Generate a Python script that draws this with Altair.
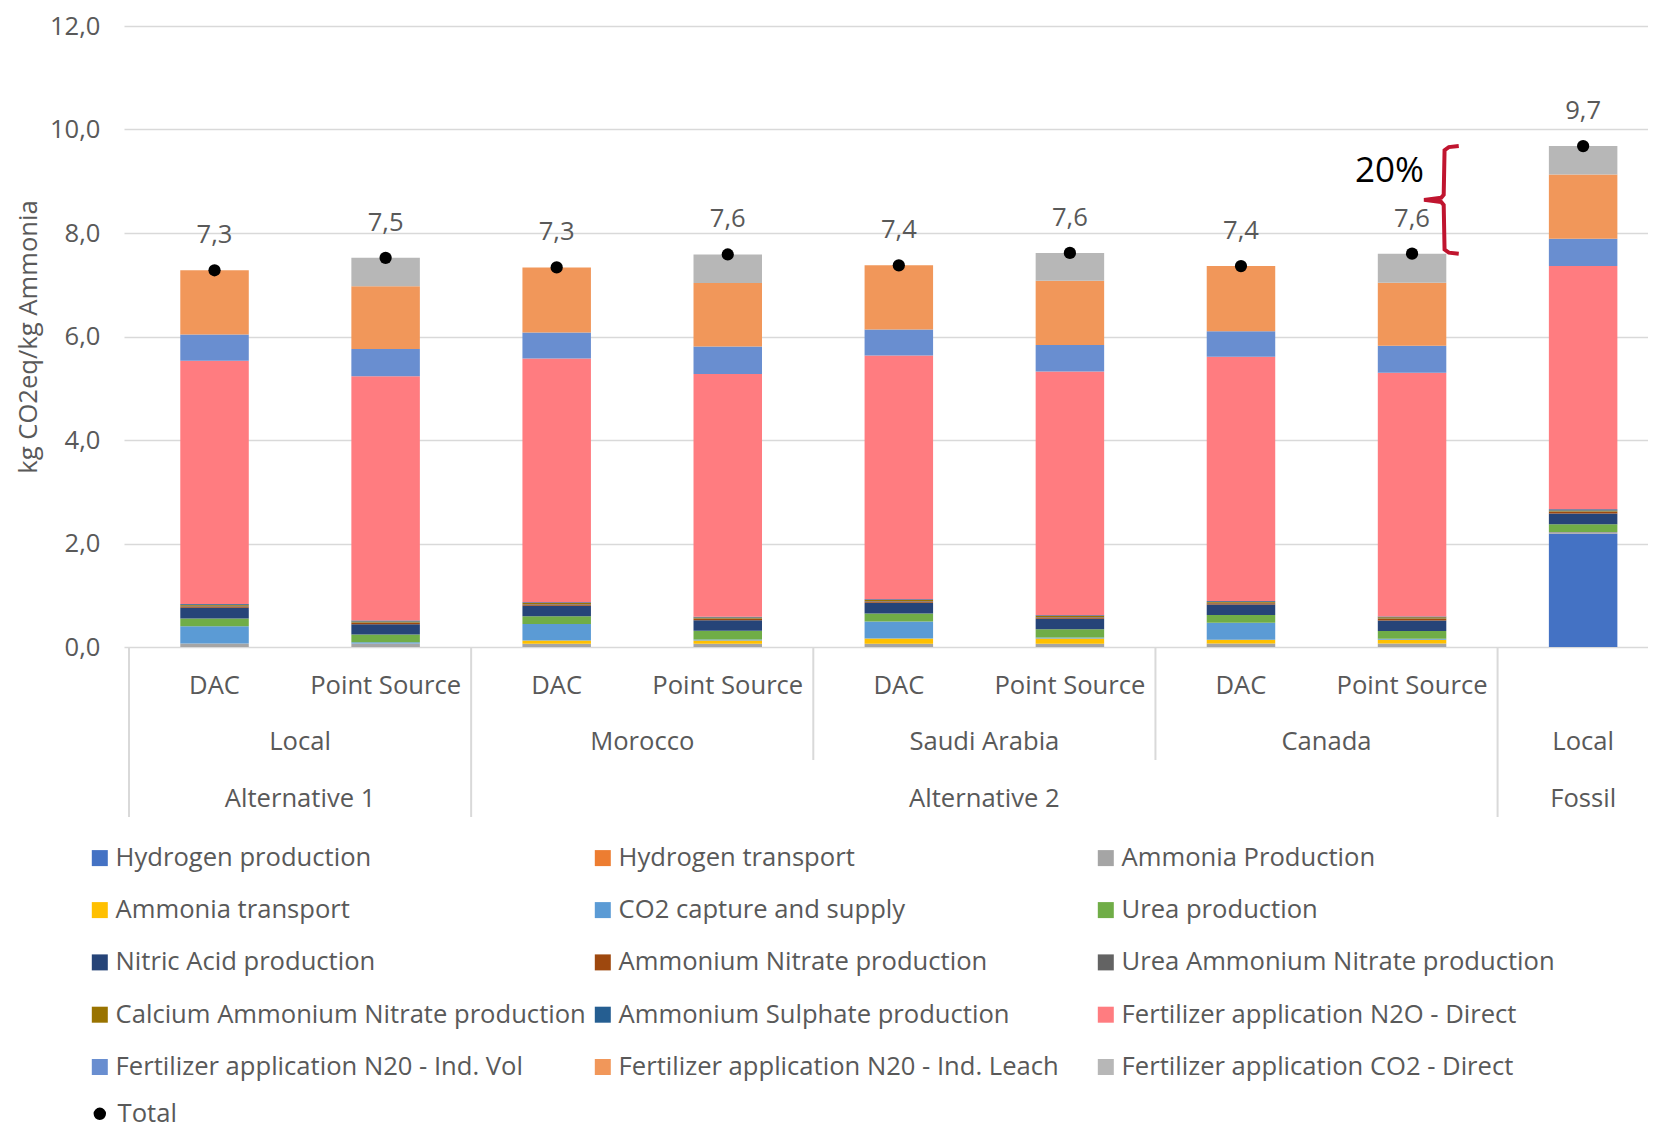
import altair as alt
import pandas as pd

# ---------------- data ----------------
bar_ids = ["Local DAC", "Local PS", "Morocco DAC", "Morocco PS", "Saudi DAC", "Saudi PS",
           "Canada DAC", "Canada PS", "Fossil Local"]
level1_labels = ["DAC", "Point Source", "DAC", "Point Source", "DAC", "Point Source",
                 "DAC", "Point Source", ""]
level2_groups = [("Local", 2), ("Morocco", 2), ("Saudi Arabia", 2), ("Canada", 2), ("Local", 1)]
level3_groups = [("Alternative 1", 2), ("Alternative 2", 6), ("Fossil", 1)]

series_names = [
    "Hydrogen production", "Hydrogen transport", "Ammonia Production",
    "Ammonia transport", "CO2 capture and supply", "Urea production",
    "Nitric Acid production", "Ammonium Nitrate production", "Urea Ammonium Nitrate production",
    "Calcium Ammonium Nitrate production", "Ammonium Sulphate production", "Fertilizer application N2O - Direct",
    "Fertilizer application N20 - Ind. Vol", "Fertilizer application N20 - Ind. Leach", "Fertilizer application CO2 - Direct",
]
series_colors = [
    "#4472C4", "#ED7D31", "#A5A5A5",
    "#FFC000", "#5B9BD5", "#70AD47",
    "#264478", "#9E480E", "#636363",
    "#997300", "#255E91", "#FF7C80",
    "#698ED0", "#F1975A", "#B7B7B7",
]

hydrogen_production = [0, 0, 0, 0, 0, 0, 0, 0, 2.19]
hydrogen_transport = [0, 0, 0, 0, 0, 0, 0, 0, 0]
ammonia_production = [0.07, 0.07, 0.065, 0.065, 0.065, 0.065, 0.07, 0.07, 0.03]
ammonia_transport = [0, 0, 0.06, 0.06, 0.10, 0.10, 0.07, 0.07, 0]
co2_capture = [0.33, 0.02, 0.32, 0.02, 0.33, 0.02, 0.33, 0.02, 0]
urea_production = [0.15, 0.15, 0.15, 0.17, 0.15, 0.16, 0.15, 0.15, 0.15]
nitric_acid = [0.21, 0.20, 0.20, 0.20, 0.21, 0.20, 0.20, 0.20, 0.21]
ammonium_nitrate = [0.025, 0.025, 0.025, 0.025, 0.025, 0.025, 0.025, 0.03, 0.03]
uan_production = [0.01, 0.01, 0.01, 0.01, 0.01, 0.01, 0.01, 0.01, 0.01]
can_production = [0.02, 0.02, 0.02, 0.02, 0.02, 0.02, 0.02, 0.025, 0.02]
as_production = [0.015, 0.015, 0.015, 0.015, 0.015, 0.015, 0.015, 0.015, 0.02]
n2o_direct = [4.70, 4.72, 4.71, 4.69, 4.71, 4.71, 4.72, 4.71, 4.70]
n2o_ind_vol = [0.51, 0.53, 0.50, 0.53, 0.50, 0.51, 0.49, 0.52, 0.53]
n2o_ind_leach = [1.24, 1.21, 1.26, 1.23, 1.24, 1.24, 1.26, 1.22, 1.24]
co2_direct = [0, 0.55, 0, 0.55, 0, 0.54, 0, 0.56, 0.55]

series_values = [
    hydrogen_production, hydrogen_transport, ammonia_production,
    ammonia_transport, co2_capture, urea_production,
    nitric_acid, ammonium_nitrate, uan_production,
    can_production, as_production, n2o_direct,
    n2o_ind_vol, n2o_ind_leach, co2_direct,
]

# ---------------- tables ----------------
rows = []
for k, (name, vals) in enumerate(zip(series_names, series_values)):
    for i, v in enumerate(vals):
        if v > 0:
            rows.append({"pos": i, "bar": bar_ids[i], "series": name, "k": k, "value": v})
df = pd.DataFrame(rows)

totals = [sum(vals[i] for vals in series_values) for i in range(len(bar_ids))]
df_tot = pd.DataFrame({
    "pos": list(range(len(bar_ids))),
    "total": totals,
    "label": [f"{t:.1f}".replace(".", ",") for t in totals],
    "lbl": ["Total"] * len(bar_ids),
})

df_l1 = pd.DataFrame({"pos": list(range(len(bar_ids))), "text": level1_labels})


def spans(groups):
    out, start = [], 0
    for name, n in groups:
        out.append({"name": name, "start": start, "mid": start + (n - 1) / 2, "edge": start - 0.5})
        start += n
    return out


l2 = spans(level2_groups)
l3 = spans(level3_groups)
df_l2 = pd.DataFrame(l2)
df_l3 = pd.DataFrame(l3)
long_edges = {g["start"] for g in l3}
df_long = pd.DataFrame([g for g in l2 if g["start"] in long_edges])
df_short = pd.DataFrame([g for g in l2 if g["start"] not in long_edges])

# legend is filled column by column: reorder so it reads row by row (3 columns)
NCOL = 3
NROW = (len(series_names) + NCOL - 1) // NCOL
legend_names, legend_colors = [], []
for c in range(NCOL):
    for r in range(NROW):
        j = r * NCOL + c
        if j < len(series_names):
            legend_names.append(series_names[j])
            legend_colors.append(series_colors[j])

# brace between Canada Point Source total and Fossil total
b_lo, b_hi = totals[7], totals[8]
b_mid = (b_lo + b_hi) / 2
bx = 7
df_brace = pd.DataFrame({
    "bx": [bx + 0.273, bx + 0.215, bx + 0.19, bx + 0.185, bx + 0.17, bx + 0.07,
           bx + 0.17, bx + 0.185, bx + 0.19, bx + 0.215, bx + 0.273],
    "by": [b_hi, b_hi - 0.02, b_hi - 0.08, b_mid + 0.10, b_mid + 0.04, b_mid,
           b_mid - 0.04, b_mid - 0.10, b_lo + 0.08, b_lo + 0.02, b_lo],
    "k": list(range(11)),
})
df_pct = pd.DataFrame({"x": [bx + 0.07], "y": [(b_hi + b_mid) / 2], "t": ["20%"]})

# ---------------- chart ----------------
W, H = 1524, 621
TXT = "#595959"
FS = 25.6
xscale = alt.Scale(domain=[-0.5, 8.35], nice=False, zero=False)
yscale = alt.Scale(domain=[0, 12], nice=False)

bars = alt.Chart(df).mark_bar(size=68.5).encode(
    x=alt.X("pos:Q", scale=xscale, axis=None),
    y=alt.Y("value:Q", stack="zero", scale=yscale,
            axis=alt.Axis(title="kg CO2eq/kg Ammonia", values=[0, 2, 4, 6, 8, 10, 12],
                          labelExpr="replace(format(datum.value, '.1f'), '.', ',')",
                          grid=True, gridColor="#D9D9D9", gridWidth=1.5,
                          domain=False, ticks=False, tickSize=0,
                          labelFontSize=FS, labelColor=TXT, labelPadding=24,
                          titleFontSize=FS, titleColor=TXT, titleFontWeight="normal",
                          titlePadding=8)),
    color=alt.Color("series:N", scale=alt.Scale(domain=legend_names, range=legend_colors),
                    legend=alt.Legend(title=None, orient="none", legendX=-37, legendY=819,
                                      columns=NCOL, gridAlign="all", columnPadding=4, rowPadding=25.3,
                                      symbolType="square", symbolSize=256, symbolStrokeWidth=0,
                                      labelFontSize=FS, labelColor=TXT, labelLimit=700,
                                      labelOffset=3)),
    order=alt.Order("k:Q"),
)

points = alt.Chart(df_tot).mark_point(filled=True, size=150, color="black", opacity=1).encode(
    x=alt.X("pos:Q", scale=xscale),
    y=alt.Y("total:Q", scale=yscale),
    shape=alt.Shape("lbl:N", scale=alt.Scale(domain=["Total"], range=["circle"]),
                    legend=alt.Legend(title=None, orient="none", legendX=-37, legendY=1075,
                                      symbolSize=154, symbolFillColor="black",
                                      symbolStrokeColor="black",
                                      labelFontSize=FS, labelColor=TXT, labelOffset=5)),
)

tot_labels = alt.Chart(df_tot).mark_text(fontSize=FS, color=TXT, dy=-35, baseline="middle").encode(
    x=alt.X("pos:Q", scale=xscale),
    y=alt.Y("total:Q", scale=yscale),
    text="label:N",
)

lvl1 = alt.Chart(df_l1).mark_text(fontSize=FS, color=TXT, baseline="middle").encode(
    x=alt.X("pos:Q", scale=xscale), y=alt.value(H + 39), text="text:N")
lvl2 = alt.Chart(df_l2).mark_text(fontSize=FS, color=TXT, baseline="middle").encode(
    x=alt.X("mid:Q", scale=xscale), y=alt.value(H + 95), text="name:N")
lvl3 = alt.Chart(df_l3).mark_text(fontSize=FS, color=TXT, baseline="middle").encode(
    x=alt.X("mid:Q", scale=xscale), y=alt.value(H + 152), text="name:N")

rule_long = alt.Chart(df_long).mark_rule(color="#D9D9D9", strokeWidth=2).encode(
    x=alt.X("edge:Q", scale=xscale), y=alt.value(H), y2=alt.value(H + 170))
rule_short = alt.Chart(df_short).mark_rule(color="#D9D9D9", strokeWidth=2).encode(
    x=alt.X("edge:Q", scale=xscale), y=alt.value(H), y2=alt.value(H + 113))

brace = alt.Chart(df_brace).mark_line(color="#C0152F", strokeWidth=4).encode(
    x=alt.X("bx:Q", scale=xscale), y=alt.Y("by:Q", scale=yscale), order="k:Q")
pct = alt.Chart(df_pct).mark_text(fontSize=35, color="black", align="right", baseline="middle", dy=-2).encode(
    x=alt.X("x:Q", scale=xscale), y=alt.Y("y:Q", scale=yscale), text="t:N")

chart = alt.layer(
    bars, rule_long, rule_short, lvl1, lvl2, lvl3, points, tot_labels, brace, pct
).properties(
    width=W, height=H,
    padding={"left": 8, "top": 6, "right": 0, "bottom": 0},
).configure(
    font="Open Sans"
).configure_view(strokeWidth=0)

chart.save("out.html", embed_options={"renderer": "svg", "actions": False})
